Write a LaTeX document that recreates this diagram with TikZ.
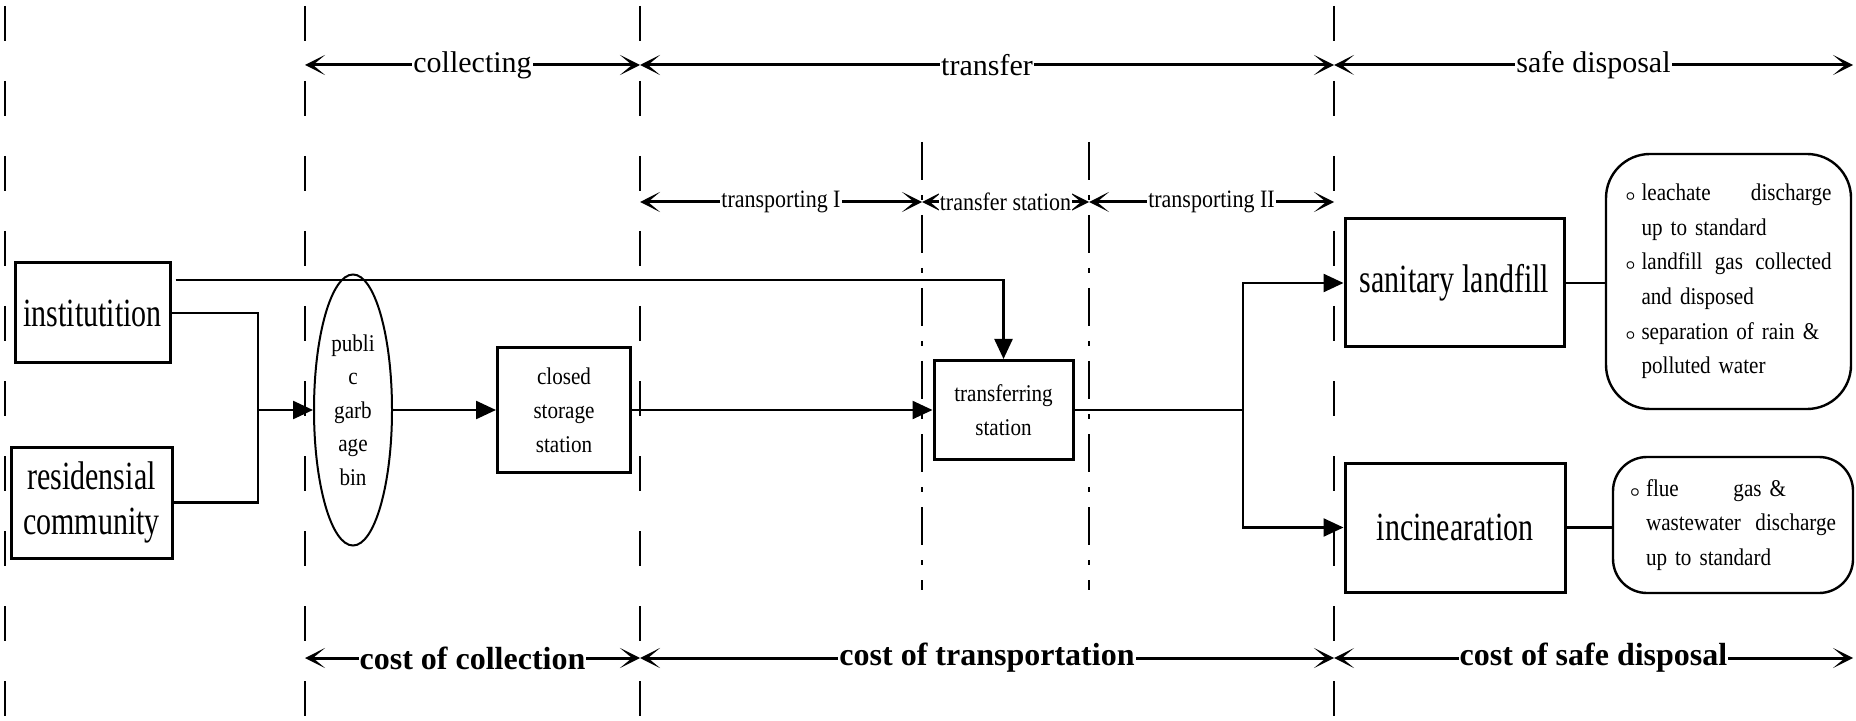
\documentclass[tikz,border=0pt]{standalone}
\usepackage{fontspec}
\setmainfont{Liberation Serif}
\newfontfamily\tallfont[FakeStretch=0.75]{Liberation Serif}
\newfontfamily\narrowfont[FakeStretch=0.88]{Liberation Serif}
\usetikzlibrary{arrows.meta,shapes.geometric,calc}
\newcommand{\notebullet}{\makebox[8.5pt][l]{\hspace{0.5pt}\boldmath$\scriptstyle\circ$}}

\begin{document}
\begin{tikzpicture}[x=1pt, y=-1pt,
  bigbox/.style={rectangle, draw, line width=1.5pt, inner sep=0pt, align=center, font=\tallfont\fontsize{20}{22.5}\selectfont},
  smallbox/.style={rectangle, draw, line width=1.5pt, inner sep=0pt, align=center, font=\narrowfont\fontsize{12}{17}\selectfont},
  binshape/.style={ellipse, draw, line width=1pt, inner sep=0pt, align=center, font=\narrowfont\fontsize{12}{16.7}\selectfont},
  notebox/.style={rectangle, draw, line width=1.2pt, align=left, text width=104pt, font=\narrowfont\fontsize{12}{17.3}\selectfont},
  conn/.style={line width=1.2pt},
  arrow/.style={conn, -{Triangle[length=10pt, width=9pt]}},
  divider/.style={line width=1.1pt, dash pattern=on 17.5pt off 20pt},
  subdivider/.style={line width=1.1pt, dash pattern=on 19pt off 7.5pt on 2.5pt off 7.5pt},
  dimline/.style={line width=1.5pt, {Stealth[length=10pt, width=10pt, inset=6pt]}-{Stealth[length=10pt, width=10pt, inset=6pt]}},
  phaselabel/.style={fill=white, inner sep=0.5pt, font=\fontsize{15}{18}\selectfont},
  subphaselabel/.style={fill=white, inner sep=0.5pt, font=\narrowfont\fontsize{12.5}{15}\selectfont},
  costlabel/.style={fill=white, inner sep=0.5pt, font=\bfseries\fontsize{16}{19}\selectfont}
]
  \useasboundingbox (0,0) rectangle (928,360.5);

  % Stage boundaries
  \coordinate (edge) at (2.5,0);
  \coordinate (collect) at (152.5,0);
  \coordinate (haul) at (320,0);
  \coordinate (dispose) at (667,0);
  \coordinate (stationL) at (461,0);
  \coordinate (stationR) at (544.5,0);
  \coordinate (rim) at (926.5,0);
  \coordinate (toprow) at (0,32.5);
  \coordinate (midrow) at (0,101);
  \coordinate (lowrow) at (0,329);

  \foreach \x in {2.5, 152.5, 320, 667}
    \draw[divider] (\x,3) -- (\x,360.5);
  \foreach \x in {461, 544.5}
    \draw[subdivider] (\x,71) -- (\x,295);

  % Phases (top)
  \draw[dimline] (collect |- toprow) -- (haul |- toprow) node[midway, phaselabel] {collecting};
  \draw[dimline] (haul |- toprow) -- (dispose |- toprow) node[midway, phaselabel] {transfer};
  \draw[dimline] (dispose |- toprow) -- (rim |- toprow) node[midway, phaselabel] {safe disposal};

  % Transfer sub-phases
  \draw[dimline] (haul |- midrow) -- (stationL |- midrow) node[midway, subphaselabel] {transporting I};
  \draw[dimline] (stationL |- midrow) -- (stationR |- midrow) node[midway, subphaselabel] {transfer station};
  \draw[dimline] (stationR |- midrow) -- (dispose |- midrow) node[midway, subphaselabel] {transporting II};

  % Costs (bottom)
  \draw[dimline] (collect |- lowrow) -- (haul |- lowrow) node[midway, costlabel] {cost of collection};
  \draw[dimline] (haul |- lowrow) -- (dispose |- lowrow) node[midway, costlabel] {cost of transportation};
  \draw[dimline] (dispose |- lowrow) -- (rim |- lowrow) node[midway, costlabel] {cost of safe disposal};

  % Sources
  \node[bigbox, minimum width=77.5pt, minimum height=50pt] (inst) at (46.25,156.5) {institutition};
  \node[bigbox, minimum width=80.5pt, minimum height=55.5pt] (resid) at (45.75,251.25) {residensial\\community};

  % Collection and transfer
  \node[binshape, minimum width=39pt, minimum height=135.5pt] (bin) at (176.5,205) {publi\\c\\garb\\age\\bin};
  \node[smallbox, minimum width=66.5pt, minimum height=62.5pt] (storage) at (282,205) {closed\\storage\\station};
  \node[smallbox, minimum width=69.5pt, minimum height=49.5pt] (transfer) at (501.75,205) {transferring\\station};

  % Disposal
  \node[bigbox, minimum width=109.5pt, minimum height=64pt] (landfill) at (727.25,141.5) {sanitary landfill};
  \node[bigbox, minimum width=110pt, minimum height=64.5pt] (incin) at (727.5,263.75) {incinearation};

  \node[notebox, rounded corners=22pt, minimum width=122.5pt, minimum height=127.5pt] (landnote) at (864.25,140.75) {\notebullet\makebox[95pt][l]{leachate\hfill discharge}\\
    \hspace*{8.5pt}up to standard\\
    \notebullet\makebox[95pt][l]{landfill\hfill gas\hfill collected}\\
    \hspace*{8.5pt}and disposed\\
    \notebullet separation of rain \&\\
    \hspace*{8.5pt}polluted water};
  \node[notebox, rounded corners=17pt, minimum width=120pt, minimum height=68pt] (incnote) at (866.5,262.5) {\notebullet\makebox[70pt][l]{flue\hfill gas \&}\\
    \hspace*{8.5pt}\makebox[95pt][l]{wastewater\hfill discharge}\\
    \hspace*{8.5pt}up to standard};

  % Arrows
  \coordinate (merge) at (129,205);
  \coordinate (fork) at (621.5,205);
  \draw[conn] (inst.east) -| (merge) |- (resid.east);
  \draw[arrow] (merge) -- (bin.west);
  \draw[arrow] ($(inst.east)+(2,-16.5)$) -| (transfer.north);
  \draw[arrow] (bin.east) -- (storage.west);
  \draw[arrow] (storage.east) -- (transfer.west);
  \draw[conn] (transfer.east) -- (fork);
  \draw[arrow] (fork) |- (landfill.west);
  \draw[arrow] (fork) |- (incin.west);
  \draw[conn] (landfill.east) -- (landfill.east -| landnote.west);
  \draw[conn] (incin.east) -- (incin.east -| incnote.west);
\end{tikzpicture}
\end{document}
